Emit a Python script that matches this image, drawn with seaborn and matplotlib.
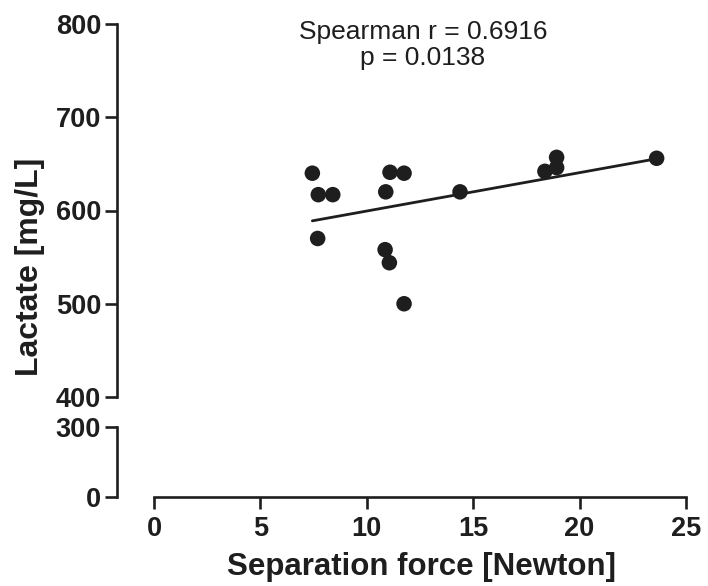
import numpy as np
import matplotlib
matplotlib.use("Agg")
import matplotlib.pyplot as plt
import seaborn as sns

# values
separation_force = [7.44, 7.72, 8.40, 7.69, 11.09, 11.75, 10.89, 10.86, 11.06,
                    11.75, 14.38, 18.37, 18.92, 18.92, 23.62]
lactate = [640, 617, 617, 570, 641, 640, 620, 558, 544,
           500, 620, 642, 657, 646, 656]
x_ticks = [0, 5, 10, 15, 20, 25]
y_ticks_top = [400, 500, 600, 700, 800]
y_ticks_bottom = [0, 300]
stats_text = "Spearman r = 0.6916\np = 0.0138"

sns.set_style("ticks")
plt.rcParams['font.family'] = ['Liberation Sans', 'DejaVu Sans']

ink = "#1e1e1e"
lw = 1.9

fig = plt.figure(figsize=(7.08, 5.86), dpi=100)
W, H = 708.0, 586.0
left, right = 117 / W, 686 / W
ax_top = fig.add_axes([left, 1 - 397 / H, right - left, (397 - 24) / H])
ax_bot = fig.add_axes([left, 1 - 497 / H, right - left, (497 - 427) / H])

xlim = (-1.74, 25)

# scatter + least squares line (broken y axis: top panel holds the data)
sns.regplot(x=separation_force, y=lactate, ax=ax_top, ci=None,
            scatter_kws=dict(s=125, color=ink, edgecolor="none", alpha=1),
            line_kws=dict(color=ink, lw=2.0))

ax_top.set_xlim(*xlim)
ax_top.set_ylim(400, 800)
ax_top.set_yticks(y_ticks_top)
ax_top.set_xticks([])
ax_top.spines[['top', 'right', 'bottom']].set_visible(False)
ax_top.spines['left'].set_bounds(400, 800)

ax_bot.set_xlim(*xlim)
ax_bot.set_ylim(0, 300)
ax_bot.set_yticks(y_ticks_bottom)
ax_bot.set_xticks(x_ticks)
ax_bot.spines[['top', 'right']].set_visible(False)
ax_bot.spines['bottom'].set_bounds(0, 25)
ax_bot.spines['left'].set_bounds(0, 300)

for ax in (ax_top, ax_bot):
    ax.set_facecolor("none")
    for sp in ax.spines.values():
        sp.set_linewidth(lw)
        sp.set_color(ink)
    ax.tick_params(axis='both', length=8.5, width=lw, color=ink, labelcolor=ink,
                   labelsize=19.5, pad=3)
    ax.tick_params(axis='x', pad=5)
    for lab in ax.get_xticklabels() + ax.get_yticklabels():
        lab.set_fontweight('bold')
    ax.set_xlabel("")
    ax.set_ylabel("")

fig.text(421 / W, 1 - 567 / H, "Separation force [Newton]", ha='center', va='center',
         fontsize=22.5, fontweight='bold', color=ink)
fig.text(30 / W, 1 - 267 / H, "Lactate [mg/L]", ha='center', va='center',
         rotation=90, fontsize=23, fontweight='bold', color=ink)
fig.text(423 / W, 1 - 45 / H, stats_text, ha='center', va='center',
         fontsize=19, color=ink, linespacing=1.15)

fig.savefig("out.png", dpi=100)
